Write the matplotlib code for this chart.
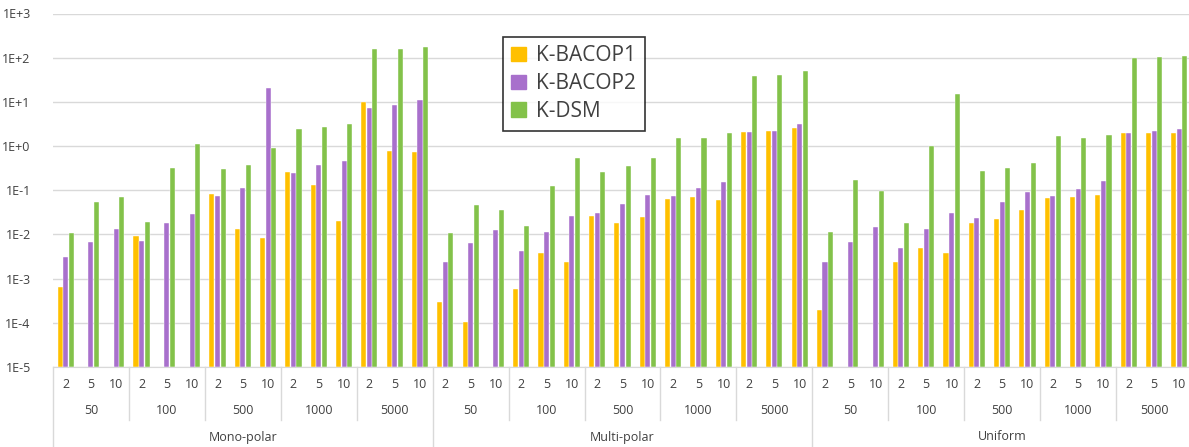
import numpy as np
import matplotlib.pyplot as plt
from matplotlib.patches import Patch

plt.rcParams['font.family'] = ['Open Sans', 'DejaVu Sans']

dists = ["Mono-polar", "Multi-polar", "Uniform"]
sizes = ["50", "100", "500", "1000", "5000"]
ks = ["2", "5", "10"]

# order: dist -> size -> k   (nan = no bar)
bacop1 = [
    6.4e-4, np.nan, np.nan, 9.3e-3, np.nan, np.nan, 0.081, 0.0135, 0.0082,
    0.26, 0.13, 0.02, 9.9, 0.76, 0.75,
    2.8e-4, 9.5e-5, np.nan, 5.8e-4, 3.8e-3, 2.35e-3, 0.0267, 0.018, 0.0244,
    0.063, 0.072, 0.061, 2.1, 2.2, 2.55,
    1.8e-4, np.nan, np.nan, 2.4e-3, 4.9e-3, 3.8e-3, 0.018, 0.022, 0.035,
    0.066, 0.069, 0.077, 1.97, 1.97, 2.0,
]
bacop2 = [
    3.0e-3, 6.6e-3, 0.0135, 7.0e-3, 0.018, 0.029, 0.073, 0.114, 21.0,
    0.25, 0.37, 0.45, 7.1, 8.3, 11.3,
    2.4e-3, 6.3e-3, 0.0129, 4.3e-3, 0.0116, 0.0257, 0.031, 0.048, 0.077,
    0.074, 0.114, 0.15, 2.1, 2.2, 3.1,
    2.4e-3, 6.7e-3, 0.0145, 4.9e-3, 0.0135, 0.031, 0.0237, 0.055, 0.091,
    0.074, 0.105, 0.16, 2.0, 2.15, 2.4,
]
kdsm = [
    0.011, 0.054, 0.070, 0.0195, 0.32, 1.1, 0.31, 0.38, 0.89,
    2.46, 2.64, 3.1, 158, 158, 172,
    0.0108, 0.0457, 0.0364, 0.0159, 0.125, 0.545, 0.263, 0.347, 0.535,
    1.49, 1.54, 1.97, 39, 41, 51,
    0.0112, 0.174, 0.095, 0.018, 1.0, 15.2, 0.277, 0.324, 0.42,
    1.65, 1.52, 1.77, 99, 102, 112,
]

c1, c2, c3 = "#FFC000", "#A870CC", "#83C24A"
W, H = 1189, 447
fig = plt.figure(figsize=(W / 100, H / 100), dpi=100)
x0, x1 = 53, 1192
ytop, ybot = 13.5, 367
ax = fig.add_axes([x0 / W, (H - ybot) / H, (x1 - x0) / W, (ybot - ytop) / H])

x = np.arange(len(kdsm))
bw = 0.2
off = 0.22
ax.bar(x - off, bacop1, bw, color=c1, edgecolor="white", linewidth=0.3, bottom=1e-5)
ax.bar(x, bacop2, bw, color=c2, edgecolor="white", linewidth=0.3, bottom=1e-5)
ax.bar(x + off, kdsm, bw, color=c3, edgecolor="white", linewidth=0.3, bottom=1e-5)

ax.set_yscale("log")
ax.set_ylim(1e-5, 1e3)
ax.set_xlim(-0.5, len(kdsm) - 0.5)
ticks = [10.0 ** e for e in range(-5, 4)]
ax.set_yticks(ticks)
ax.set_yticklabels(["1E%+d" % e if e != 0 else "1E+0" for e in range(-5, 4)])
ax.yaxis.set_minor_locator(plt.NullLocator())
ax.tick_params(axis="y", length=0, pad=16, labelsize=9, labelcolor="#404040")
ax.set_xticks([])
ax.grid(axis="y", color="#D9D9D9", linewidth=1)
ax.set_axisbelow(True)
for s in ["left", "right", "top"]:
    ax.spines[s].set_visible(False)
ax.spines["bottom"].set_color("#D9D9D9")

# multi-level category labels
tr = ax.get_xaxis_transform()
h = ybot - ytop
def fy(py):
    return (ybot - py) / h

lc = "#404040"
n = 0
for d in dists:
    for s in sizes:
        for k in ks:
            ax.text(n, fy(385), k, transform=tr, ha="center", va="center", fontsize=9, color=lc)
            n += 1
for i in range(len(dists) * len(sizes)):
    ax.text(i * 3 + 1, fy(410.5), sizes[i % 5], transform=tr, ha="center", va="center",
            fontsize=9, color=lc)
for i, d in enumerate(dists):
    ax.text(i * 15 + 7, fy(437), d, transform=tr, ha="center", va="center", fontsize=9, color=lc)

for b in np.arange(-0.5, len(kdsm), 3):
    is_major = (b + 0.5) % 15 == 0
    ax.plot([b, b], [0, fy(447 if is_major else 420)], transform=tr, color="#D9D9D9",
            linewidth=1, clip_on=False)

handles = [Patch(color=c1, label="K-BACOP1"), Patch(color=c2, label="K-BACOP2"),
           Patch(color=c3, label="K-DSM")]
leg = ax.legend(handles=handles, loc="upper left",
                bbox_to_anchor=((502.7 - x0) / (x1 - x0), fy(36.7)),
                fontsize=15, frameon=True, fancybox=False, handlelength=0.7,
                handleheight=0.7, handletextpad=0.5, labelspacing=0.32,
                borderpad=0.42, borderaxespad=0)
leg.get_frame().set_edgecolor("black")
leg.get_frame().set_linewidth(1.2)
for t in leg.get_texts():
    t.set_color("#404040")

fig.savefig("out.png", dpi=100)
